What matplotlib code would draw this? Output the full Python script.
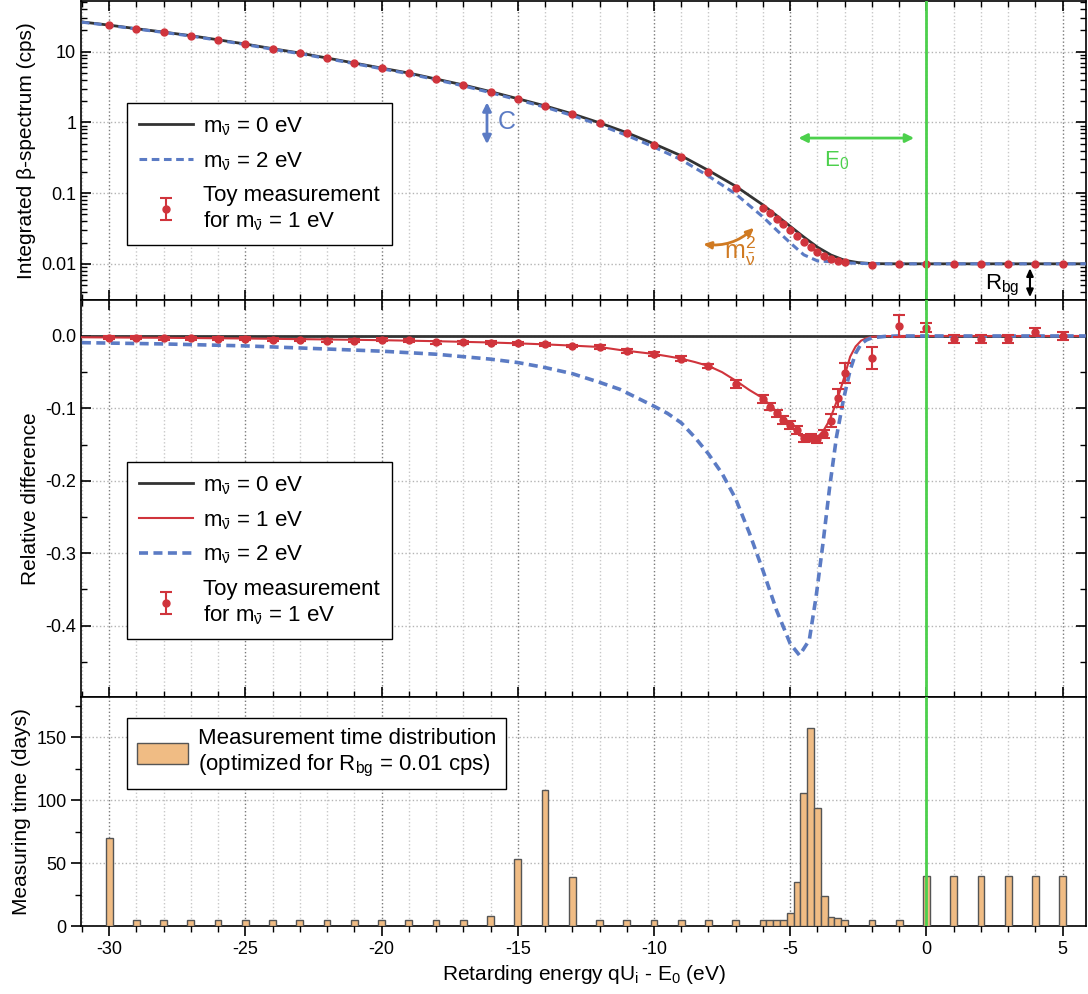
import matplotlib
matplotlib.use('Agg')
from matplotlib import pyplot as plt
from matplotlib import ticker

plt.rcParams['font.family'] = ['Liberation Sans', 'DejaVu Sans']
plt.rcParams['mathtext.fontset'] = 'custom'
plt.rcParams['mathtext.rm'] = 'Liberation Sans'
plt.rcParams['mathtext.it'] = 'Liberation Sans:italic'
plt.rcParams['mathtext.default'] = 'regular'
plt.rcParams['axes.unicode_minus'] = False

# measurement points (toy data)
x_meas = [-30, -29, -28, -27, -26, -25, -24, -23, -22, -21, -20, -19, -18, -17,
          -16, -15, -14, -13, -12, -11, -10, -9, -8, -7,
          -6, -5.75, -5.5, -5.25, -5, -4.75, -4.5, -4.25, -4, -3.75, -3.5, -3.25, -3,
          -2, -1, 0, 1, 2, 3, 4, 5]
rate_toy = [23.6, 20.9, 18.8, 16.7, 14.5, 12.7, 10.9, 9.5, 8.07, 6.86, 5.82, 4.95, 4.07, 3.35,
            2.69, 2.14, 1.69, 1.30, 0.97, 0.70, 0.484, 0.327, 0.20, 0.117,
            0.062, 0.0518, 0.043, 0.0362, 0.0297, 0.0247, 0.0205, 0.0171, 0.0148, 0.0129, 0.0118, 0.0111, 0.0107,
            0.0097, 0.0101, 0.0101, 0.0100, 0.0100, 0.0100, 0.0100, 0.0100]
rel_toy = [-0.0027, -0.0027, -0.0032, -0.0032, -0.0041, -0.0041, -0.005, -0.0055, -0.0064, -0.0064,
           -0.005, -0.006, -0.0087, -0.0087, -0.0096, -0.0101, -0.0115, -0.0138, -0.0151, -0.0203,
           -0.0253, -0.0313, -0.0414, -0.0663,
           -0.087, -0.0977, -0.1068, -0.116, -0.123, -0.130, -0.1413, -0.1405, -0.1427, -0.1354,
           -0.117, -0.086, -0.0507,
           -0.0308, 0.0142, 0.0114, -0.0045, -0.0037, -0.004, 0.005, 0.0]
rel_err = [0.002] * 18 + [0.003] * 5 + [0.006, 0.006] + [0.005] * 8 + [0.006, 0.009, 0.0125, 0.014,
           0.015, 0.015, 0.006, 0.0055, 0.0055, 0.0055, 0.0055, 0.0055]
t_days = [70, 5, 5, 5, 5, 5, 5, 5, 5, 5, 5, 5, 5, 5,
          8, 53, 108, 39, 5, 5, 5, 5, 5, 5,
          5, 5, 5, 5, 10, 35, 106, 157, 94, 24, 7, 6, 5,
          5, 5, 40, 40, 40, 40, 40, 40]

# integrated spectrum model curves
x_top = [-31, -30, -29, -28, -27, -26, -25, -24, -23, -22, -21, -20, -19, -18, -17, -16,
         -15, -14, -13, -12, -11, -10, -9, -8, -7, -6, -5.5, -5, -4.5, -4, -3.5, -3,
         -2.5, -2, -1.5, -1, 0, 5, 5.85]
rate_m0 = [26.3, 23.7, 21.1, 18.9, 16.8, 14.7, 12.8, 11.0, 9.55, 8.12, 6.9, 5.85, 4.98, 4.1,
           3.38, 2.72, 2.16, 1.71, 1.32, 0.985, 0.715, 0.497, 0.337, 0.209, 0.125, 0.068,
           0.0481, 0.0339, 0.0239, 0.0172, 0.0133, 0.0112, 0.0104, 0.01008, 0.01002, 0.0100,
           0.0100, 0.0100, 0.0100]
rate_m2 = [26.1, 23.5, 20.9, 18.7, 16.6, 14.5, 12.6, 10.8, 9.38, 7.97, 6.76, 5.73, 4.86, 4.0,
           3.28, 2.63, 2.08, 1.64, 1.25, 0.92, 0.655, 0.448, 0.296, 0.174, 0.097, 0.046,
           0.030, 0.0198, 0.0134, 0.0110, 0.0107, 0.0103, 0.01015, 0.01004, 0.0100, 0.0100,
           0.0100, 0.0100, 0.0100]

# relative difference curves
x_rel = [-31, -28, -25, -22, -20, -18, -16, -15, -14, -13, -12, -11.26, -10, -9.5, -9, -8.5,
         -8, -7.5, -7, -6.5, -6, -5.5, -5, -4.66, -4.3, -4.05, -3.8, -3.55, -3.3, -3.05,
         -2.8, -2.6, -2.4, -2.2, -2, -1.5, -1, 0, 5, 5.85]
rel_m1 = [-0.0018, -0.0025, -0.0035, -0.0048, -0.0058, -0.0072, -0.009, -0.0102, -0.0116,
          -0.0133, -0.0152, -0.0193, -0.0249, -0.028, -0.0313, -0.036, -0.0414, -0.050,
          -0.0617, -0.0746, -0.086, -0.1045, -0.123, -0.137, -0.143, -0.1413, -0.132, -0.116,
          -0.091, -0.061, -0.0286, -0.0145, -0.0065, -0.003, -0.0012, -0.0002, 0, 0, 0, 0]
rel_m2 = [-0.0092, -0.011, -0.0137, -0.018, -0.021, -0.0252, -0.032, -0.0367, -0.0436, -0.052,
          -0.064, -0.0736, -0.097, -0.107, -0.12, -0.14, -0.163, -0.19, -0.225, -0.272,
          -0.324, -0.379, -0.425, -0.441, -0.42, -0.36, -0.287, -0.208, -0.139, -0.0885,
          -0.047, -0.024, -0.011, -0.0055, -0.0025, -0.0005, 0, 0, 0, 0]

red = '#d0343c'
blue = '#5b7bc4'
dark = '#333333'
green = '#4cd04c'
orange = '#d07a22'

fig = plt.figure(figsize=(10.88, 9.94), dpi=100)
L, W = 0.0745, 0.924
ax1 = fig.add_axes([L, 0.6982, W, 0.3008])
ax2 = fig.add_axes([L, 0.2988, W, 0.3994], sharex=ax1)
ax3 = fig.add_axes([L, 0.0684, W, 0.2304], sharex=ax1)

nu = r'$m_{\bar{\nu}}$'
toy_label = 'Toy measurement\nfor ' + nu + ' = 1 eV'
leg_kw = dict(loc='upper left', borderaxespad=0, fontsize=16, fancybox=False,
              edgecolor='black', framealpha=1, handlelength=2.4, handletextpad=0.45,
              labelspacing=0.55, borderpad=0.55)

# middle panel
l0 = ax2.axhline(0, color=dark, lw=2, zorder=2)
l1, = ax2.plot(x_rel, rel_m1, color=red, lw=1.5, zorder=3)
l2, = ax2.plot(x_rel, rel_m2, color=blue, lw=2.6, ls=(0, (2.5, 1.5)), zorder=4)
eb = ax2.errorbar(x_meas, rel_toy, yerr=rel_err, fmt='o', color=red, ms=5, capsize=4,
                  elinewidth=1.5, capthick=1.5, zorder=5)
ax2.set_ylim(-0.4986, 0.0497)
ax2.yaxis.set_major_locator(ticker.MultipleLocator(0.1))
ax2.yaxis.set_minor_locator(ticker.MultipleLocator(0.05))
ax2.yaxis.set_major_formatter(ticker.FormatStrFormatter('%.1f'))
ax2.set_ylabel('Relative difference', fontsize=15)
ax2.legend([l0, l1, l2, eb], [nu + ' = 0 eV', nu + ' = 1 eV', nu + ' = 2 eV', toy_label],
           bbox_to_anchor=(0.0457, 0.592), **leg_kw)

# top panel
t0, = ax1.plot(x_top, rate_m0, color=dark, lw=2, zorder=3)
t2, = ax1.plot(x_top, rate_m2, color=blue, lw=2.2, ls=(0, (2.5, 1.5)), zorder=4)
ax1.plot(x_meas, rate_toy, 'o', color=red, ms=5, zorder=5)
ax1.set_yscale('log')
ax1.set_ylim(0.00308, 52)
ax1.yaxis.set_major_locator(ticker.FixedLocator([0.01, 0.1, 1, 10]))
ax1.yaxis.set_major_formatter(ticker.FuncFormatter(lambda v, p: '%g' % v))
ax1.yaxis.set_minor_locator(ticker.LogLocator(subs=range(2, 10)))
ax1.yaxis.set_minor_formatter(ticker.NullFormatter())
ax1.set_ylabel('Integrated β-spectrum (cps)', fontsize=15)
ax1.legend([t0, t2, eb], [nu + ' = 0 eV', nu + ' = 2 eV', toy_label],
           bbox_to_anchor=(0.0457, 0.659), **leg_kw)

ax1.annotate('', xy=(-16.13, 2.1), xytext=(-16.13, 0.45),
             arrowprops=dict(arrowstyle='<|-|>,head_width=0.25,head_length=0.5', color=blue, lw=2))
ax1.text(-15.75, 1.0, 'C', color=blue, fontsize=18, va='center', ha='left')
ax1.annotate('', xy=(-4.8, 0.60), xytext=(-0.35, 0.60),
             arrowprops=dict(arrowstyle='<|-|>,head_width=0.25,head_length=0.5', color=green, lw=2))
ax1.text(-3.3, 0.29, '$E_0$', color=green, fontsize=16, va='center', ha='center')
ax1.annotate('', xy=(-8.3, 0.0192), xytext=(-6.25, 0.0345),
             arrowprops=dict(arrowstyle='<|-|>,head_width=0.2,head_length=0.45', color=orange, lw=2,
                             connectionstyle='arc3,rad=-0.25'))
ax1.text(-6.85, 0.0152, r'$m^2_{\bar{\nu}}$', color=orange, fontsize=18, va='center', ha='center')
ax1.annotate('', xy=(3.8, 0.0095), xytext=(3.8, 0.00308),
             arrowprops=dict(arrowstyle='<|-|>,head_width=0.2,head_length=0.45', color='black', lw=1.5))
ax1.text(3.4, 0.0049, '$R_{bg}$', color='black', fontsize=16, va='center', ha='right')

# bottom panel
ax3.bar(x_meas, t_days, width=0.25, color='#f0bc84', edgecolor='#555555', lw=1,
        label='Measurement time distribution\n(optimized for $R_{bg}$ = 0.01 cps)', zorder=3)
ax3.set_ylim(0, 182)
ax3.yaxis.set_major_locator(ticker.MultipleLocator(50))
ax3.yaxis.set_minor_locator(ticker.MultipleLocator(25))
ax3.set_ylabel('Measuring time (days)', fontsize=15)
ax3.set_xlabel('Retarding energy qU$_i$ - E$_0$ (eV)', fontsize=15)
ax3.legend(loc='upper left', bbox_to_anchor=(0.0457, 0.908), borderaxespad=0, fontsize=16,
           fancybox=False, edgecolor='black', framealpha=1, handlelength=2.3, handleheight=1.1,
           handletextpad=0.45, borderpad=0.45)

ax1.set_xlim(-31.03, 5.87)
ax1.xaxis.set_major_locator(ticker.MultipleLocator(5))
ax1.xaxis.set_minor_locator(ticker.MultipleLocator(1))

for ax in (ax1, ax2, ax3):
    ax.axvline(0, color=green, lw=2, zorder=6)
    ax.grid(which='minor', axis='x', color='#c8c8c8', ls=':', lw=1)
    ax.grid(which='major', axis='x', color='#7a7a7a', ls=':', lw=1)
    ax.grid(which='major', axis='y', color='#b4b4b4', ls=':', lw=1)
    ax.set_axisbelow(True)
    ax.tick_params(labelsize=13)
    for s in ax.spines.values():
        s.set_linewidth(1.2)

for ax in (ax1, ax2):
    ax.tick_params(which='both', direction='in', top=True, right=True, labelbottom=False)
    ax.tick_params(which='major', length=7, width=1.2)
    ax.tick_params(which='minor', length=4, width=1)
ax3.tick_params(which='both', direction='out', top=False, right=False)
ax3.tick_params(which='major', length=7, width=1.2)
ax3.tick_params(which='minor', length=4, width=1)

fig.align_ylabels([ax1, ax2, ax3])
fig.savefig('out.png', dpi=100)
